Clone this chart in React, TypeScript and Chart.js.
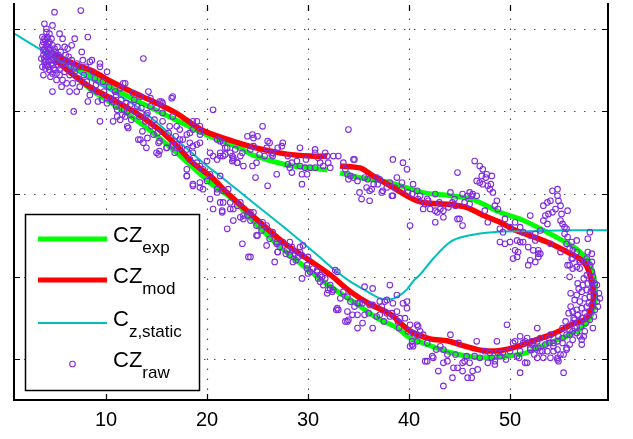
import { useEffect, useRef } from "react";
import { Chart, registerables } from "chart.js";

Chart.register(...registerables);

// axis settings
const xTicks = [10, 20, 30, 40, 50];
const yTicks = [-2.5, -2, -1.5, -1, -0.5];
const X_MIN = 0.89;
const X_MAX = 59.7;
const Y_MIN = -2.745;
const Y_MAX = -0.357;

// CZ_exp (measured, filtered)
const expX = [4.75, 7.43, 10.4, 13.66, 17.03, 20.3, 23.27, 24.55, 27.92, 30.2, 31.88, 32.5, 33.17, 35.15, 38.12, 41.39, 44.06, 46.34, 49.01, 51.29, 53.66, 54.95, 55.94, 56.93, 57.92, 58.42, 58.42, 57.92, 56.93, 55.25, 53.66, 51.68, 49.31, 46.73, 44.06, 42.08, 40.1, 38.81, 36.83, 34.85, 32.48, 29.9, 27.52, 24.95, 22.57, 20.3, 17.03, 14.36, 11.39, 8.42, 5.94, 4.75];
const expY = [-0.643, -0.745, -0.852, -0.954, -1.055, -1.151, -1.222, -1.264, -1.324, -1.342, -1.354, null, -1.372, -1.401, -1.431, -1.491, -1.509, -1.533, -1.61, -1.658, -1.73, -1.772, -1.807, -1.849, -1.921, -2.046, -2.148, -2.249, -2.315, -2.369, -2.404, -2.458, -2.482, -2.488, -2.458, -2.416, -2.369, -2.309, -2.249, -2.166, -2.07, -1.951, -1.833, -1.688, -1.533, -1.431, -1.252, -1.115, -0.984, -0.864, -0.727, -0.655];

// CZ_mod (model)
const modX = [4.75, 6.93, 8.71, 10.4, 12.38, 13.66, 15.35, 17.03, 19.6, 23.27, 24.95, 27.92, 30.2, 31.88, 32.5, 33.17, 35.15, 36.44, 38.12, 40.1, 41.39, 44.06, 45.74, 47.33, 49.01, 50.3, 53.66, 55.64, 56.93, 57.62, 58.12, 58.22, 57.62, 56.24, 54.26, 52.28, 50.99, 49.01, 47.33, 45.35, 43.76, 42.08, 40.1, 38.12, 36.14, 34.16, 32.18, 29.9, 27.52, 25.25, 22.28, 20.3, 18.61, 17.03, 15.35, 13.07, 10.4, 8.42, 6.44, 4.95];
const modY = [-0.655, -0.715, -0.757, -0.816, -0.876, -0.912, -0.96, -1.013, -1.115, -1.193, -1.222, -1.258, -1.27, -1.27, null, -1.33, -1.342, -1.39, -1.449, -1.521, -1.551, -1.563, -1.581, -1.628, -1.67, -1.712, -1.79, -1.849, -1.891, -1.939, -2.046, -2.148, -2.249, -2.285, -2.345, -2.387, -2.416, -2.446, -2.446, -2.416, -2.387, -2.375, -2.327, -2.225, -2.166, -2.088, -1.987, -1.891, -1.79, -1.67, -1.509, -1.39, -1.312, -1.21, -1.115, -1.013, -0.918, -0.852, -0.763, -0.685];

// C_z,static
const staticX = [0.79, 4.46, 9.41, 13.07, 16.63, 20.0, 21.29, 24.55, 28.22, 30.89, 32.48, 34.16, 35.84, 37.13, 38.12, 38.91, 39.8, 40.4, 41.09, 42.38, 44.06, 46.04, 48.32, 51.98, 55.94, 59.7];
const staticY = [-0.524, -0.661, -0.84, -0.972, -1.151, -1.33, -1.39, -1.551, -1.73, -1.867, -1.951, -2.028, -2.088, -2.13, -2.136, -2.118, -2.076, -2.028, -1.987, -1.891, -1.79, -1.749, -1.73, -1.724, -1.718, -1.718];

// CZ_raw samples [alpha, CZ]
const rawPoints: [number, number][] = [
  [4.9, -0.4], [7.5, -0.39], [3.9, -0.47], [4.7, -0.48], [4.1, -0.5], [4.1, -0.52], [4.2, -0.55], [4.2, -0.56], [5.4, -0.53], [5.7, -0.56], [6.9, -0.56], [8.2, -0.55],
  [3.8, -0.58], [4.4, -0.58], [4.7, -0.6], [5.2, -0.61], [5.9, -0.61], [6.2, -0.62], [6.6, -0.6],
  [3.7, -0.6], [3.9, -0.62], [4.0, -0.64], [4.2, -0.61], [4.4, -0.63], [4.6, -0.65], [3.8, -0.66], [4.1, -0.67], [4.3, -0.69], [4.5, -0.67], [4.8, -0.68], [3.9, -0.7], [4.2, -0.72], [4.6, -0.71], [5.0, -0.7], [3.7, -0.73], [4.0, -0.74], [4.4, -0.75], [4.8, -0.74], [5.1, -0.66], [5.3, -0.72], [4.3, -0.59], [3.9, -0.56], [4.5, -0.62], [4.0, -0.7], [4.7, -0.77],
  [4.0, -0.57], [4.3, -0.62], [3.8, -0.63], [4.1, -0.6], [4.4, -0.66], [3.9, -0.68], [4.2, -0.65], [4.6, -0.69], [4.0, -0.72], [4.3, -0.73], [4.7, -0.72], [5.0, -0.64], [4.9, -0.62], [5.3, -0.66], [5.6, -0.68], [5.8, -0.71], [5.5, -0.74], [6.2, -0.7], [6.5, -0.73], [6.0, -0.66], [3.6, -0.68], [3.7, -0.55], [4.4, -0.53], [4.6, -0.56],
  [7.6, -0.64], [7.7, -0.69], [8.6, -0.69], [9.4, -0.71], [10.1, -0.76], [8.7, -0.76],
  [7.1, -0.71], [7.4, -0.73], [6.9, -0.76], [6.4, -0.78], [5.9, -0.76], [5.4, -0.78], [5.1, -0.77], [4.9, -0.75], [4.5, -0.79], [3.8, -0.78],
  [5.7, -0.81], [6.1, -0.83], [6.7, -0.83], [7.4, -0.85], [7.1, -0.88], [6.4, -0.88], [5.6, -0.85], [5.1, -0.81], [4.7, -0.88],
  [8.6, -0.86], [9.1, -0.88], [8.4, -0.9], [9.6, -0.93], [10.4, -0.92], [10.7, -0.94], [10.1, -0.95], [9.2, -0.94], [8.2, -0.94], [6.8, -1.0],
  [11.9, -0.83], [11.4, -0.86], [10.9, -0.88], [9.4, -1.06], [10.7, -1.06], [11.4, -1.05], [11.1, -1.03], [11.9, -1.03], [12.1, -1.0], [11.1, -0.99],
  [9.4, -0.73], [8.4, -0.7], [12.1, -1.09], [13.7, -0.68],
  [6.0, -0.7], [6.8, -0.74], [7.8, -0.78], [8.0, -0.73], [8.9, -0.8], [9.7, -0.82], [10.3, -0.85], [11.0, -0.9], [11.5, -0.93], [12.0, -0.95], [12.8, -0.93], [13.5, -0.98], [14.0, -1.02], [14.8, -1.05], [15.6, -1.06], [16.2, -1.13], [16.9, -1.15], [17.6, -1.17], [7.2, -0.8], [8.1, -0.82], [9.0, -0.84], [9.8, -0.88], [6.3, -0.67], [5.5, -0.64], [6.6, -0.69],
  [11.7, -0.83], [14.2, -0.88], [16.6, -0.91], [15.5, -0.94], [15.6, -0.95],
  [10.5, -0.93], [11.0, -0.97], [11.8, -0.99], [12.4, -0.96], [12.9, -1.0], [11.6, -1.02], [12.5, -1.05], [13.3, -1.03], [13.9, -1.06], [12.2, -1.1], [13.6, -1.12], [14.5, -1.09], [15.1, -1.13], [14.1, -1.16], [15.3, -1.18], [16.0, -1.22], [16.6, -1.2], [15.0, -1.25], [14.0, -1.22], [13.2, -1.17],
  [13.1, -0.97], [14.4, -0.97], [15.0, -0.98], [14.1, -1.01], [15.6, -1.01], [16.6, -1.03], [16.3, -1.09], [17.0, -1.09], [17.3, -1.11], [18.6, -1.11], [18.0, -1.14], [19.3, -1.14], [17.3, -1.17], [18.3, -1.19], [19.0, -1.2], [17.0, -1.2], [15.2, -1.19], [15.3, -1.24], [15.2, -1.26], [16.0, -1.22], [17.3, -1.22], [18.0, -1.23], [16.8, -1.25],
  [20.6, -0.99], [19.0, -1.06], [19.3, -1.12], [21.0, -1.17], [18.6, -1.25], [20.3, -1.25], [20.6, -1.27], [21.3, -1.27], [22.3, -1.25], [22.6, -1.29], [20.0, -1.3], [19.0, -1.31], [19.6, -1.35], [18.0, -1.39], [18.6, -1.44], [20.3, -1.38], [21.3, -1.39], [20.0, -1.42], [19.3, -1.46], [21.0, -1.47], [21.6, -1.48], [22.1, -1.47], [22.5, -1.27], [21.8, -1.22], [23.0, -1.31],
  [18.3, -1.13], [19.3, -1.09], [21.3, -1.18], [21.6, -1.19], [18.6, -1.06],
  [13.4, -1.17], [13.7, -1.19], [14.7, -1.14], [16.6, -1.21], [18.6, -1.21], [19.3, -1.19], [18.3, -1.29], [18.0, -1.35], [21.0, -1.29],
  [12.7, -0.89], [13.4, -0.91], [14.4, -0.92], [15.3, -0.94], [16.5, -0.92], [19.3, -1.33],
  [25.5, -1.09], [24.0, -1.15], [24.5, -1.14], [24.6, -1.16], [25.0, -1.15], [26.0, -1.18], [26.2, -1.19], [27.5, -1.19], [27.4, -1.21], [27.0, -1.22], [24.6, -1.21], [24.3, -1.23], [25.9, -1.22], [29.2, -1.22], [30.7, -1.23], [30.7, -1.25], [31.7, -1.25], [31.9, -1.27],
  [21.3, -1.25], [21.8, -1.26], [21.6, -1.27], [22.0, -1.22], [22.8, -1.23], [23.5, -1.25], [23.3, -1.27], [22.6, -1.28], [23.0, -1.31], [22.5, -1.3],
  [25.2, -1.26], [25.7, -1.27], [26.4, -1.26], [26.5, -1.27], [24.9, -1.31], [24.5, -1.33], [23.6, -1.33],
  [28.0, -1.32], [28.4, -1.31], [28.9, -1.3], [28.2, -1.34], [28.4, -1.37], [29.2, -1.33], [29.7, -1.34], [30.2, -1.34], [30.7, -1.34], [31.2, -1.31], [32.0, -1.31], [31.5, -1.33], [32.2, -1.34],
  [26.9, -1.38], [29.4, -1.38], [29.9, -1.38], [24.8, -1.4], [26.0, -1.45], [29.4, -1.44],
  [26.5, -1.25], [28.0, -1.27], [29.8, -1.29], [31.0, -1.28], [33.7, -1.35], [36.5, -1.44], [37.8, -1.46], [40.9, -1.53], [43.0, -1.55], [44.5, -1.53], [46.0, -1.56], [47.5, -1.6], [49.5, -1.65], [51.0, -1.7], [52.5, -1.78], [54.0, -1.8], [55.0, -1.85],
  [32.5, -1.27], [33.0, -1.27], [33.5, -1.31], [34.5, -1.29], [34.0, -1.11], [34.0, -1.41], [34.5, -1.4], [34.9, -1.42], [34.6, -1.29],
  [38.4, -1.29], [39.4, -1.31], [39.8, -1.35],
  [33.9, -1.38], [34.2, -1.39], [35.6, -1.4], [35.9, -1.41], [36.8, -1.4], [37.1, -1.41],
  [35.1, -1.49], [35.3, -1.53], [36.1, -1.54], [35.8, -1.46], [36.3, -1.47], [36.1, -1.48],
  [36.9, -1.44], [37.4, -1.48], [37.3, -1.49], [38.1, -1.43], [38.6, -1.46], [39.3, -1.43], [39.3, -1.47], [38.4, -1.51], [38.3, -1.51], [38.8, -1.4], [40.4, -1.44],
  [39.9, -1.49], [40.3, -1.5], [40.8, -1.48], [41.1, -1.51], [41.8, -1.53], [41.9, -1.54], [41.6, -1.56], [41.4, -1.59], [42.1, -1.59], [42.6, -1.6], [42.8, -1.61], [43.1, -1.59], [43.4, -1.6], [43.9, -1.58],
  [42.6, -1.5], [44.1, -1.49], [45.3, -1.5], [45.5, -1.55], [44.3, -1.55], [44.6, -1.57],
  [42.6, -1.67], [43.4, -1.64], [44.8, -1.65], [45.0, -1.65], [40.1, -1.69], [45.3, -1.69], [44.8, -1.37],
  [46.0, -1.49], [46.2, -1.51], [46.3, -1.5], [46.7, -1.51], [45.8, -1.51],
  [46.5, -1.3], [47.0, -1.33], [47.3, -1.35], [47.2, -1.39], [47.7, -1.38], [46.7, -1.42], [47.0, -1.43], [47.3, -1.44], [47.8, -1.45], [48.2, -1.39], [48.3, -1.49], [48.0, -1.47], [48.7, -1.54], [48.5, -1.57], [48.8, -1.59], [47.6, -1.4], [48.1, -1.44],
  [47.8, -1.67], [49.0, -1.71], [49.3, -1.73], [50.0, -1.7], [50.5, -1.67],
  [49.0, -1.79], [49.5, -1.8], [50.0, -1.79], [50.7, -1.78], [51.0, -1.79], [51.3, -1.79], [50.5, -1.84], [50.8, -1.85], [50.7, -1.88], [51.8, -1.82], [52.3, -1.84], [52.8, -1.84], [53.0, -1.86], [52.8, -1.88], [52.0, -1.9], [51.8, -1.93], [50.3, -1.89],
  [51.3, -1.73], [52.0, -1.75], [52.5, -1.74], [53.0, -1.72], [52.0, -1.63],
  [53.3, -1.57], [53.7, -1.55], [54.0, -1.54], [54.2, -1.48], [54.7, -1.47], [54.7, -1.51], [54.8, -1.54], [55.0, -1.57], [54.5, -1.59], [54.2, -1.61], [53.8, -1.62], [53.5, -1.63], [53.3, -1.66], [53.7, -1.68], [55.1, -1.62], [55.0, -1.66], [55.2, -1.68], [55.4, -1.7], [55.7, -1.6], [55.6, -1.71], [55.4, -1.74], [55.7, -1.76], [56.1, -1.79], [56.6, -1.78], [55.6, -1.8], [55.9, -1.83], [56.2, -1.84], [56.6, -1.85], [55.7, -1.93], [56.6, -1.94], [56.9, -1.95], [57.9, -1.73], [57.7, -1.77], [56.2, -1.89], [56.9, -1.9], [57.6, -1.91], [58.1, -1.91], [57.7, -1.85],
  [52.5, -1.91], [52.8, -1.86], [55.9, -1.93], [56.1, -1.89], [56.2, -1.95], [56.9, -1.91], [57.6, -1.89], [58.1, -1.86], [55.9, -2.0],
  [56.7, -2.04], [57.2, -2.05], [57.7, -2.04], [58.1, -2.03], [58.2, -2.07], [57.6, -2.08], [57.1, -2.09], [56.6, -2.11], [56.4, -2.14], [56.9, -2.15], [57.4, -2.13], [57.9, -2.12], [58.4, -2.11], [58.6, -2.15], [58.1, -2.17], [57.6, -2.18], [57.1, -2.19], [56.6, -2.2], [56.7, -2.23], [57.4, -2.22], [57.9, -2.21], [58.4, -2.2], [57.2, -2.25], [57.9, -2.26], [57.6, -2.24], [56.9, -2.27], [56.2, -2.28], [56.4, -2.31], [55.9, -2.32], [56.6, -2.34], [55.6, -2.35], [55.2, -2.37], [54.8, -2.36], [55.2, -2.4], [54.7, -2.39], [54.3, -2.4], [53.9, -2.4], [53.8, -2.37], [53.0, -2.37], [52.7, -2.39], [52.2, -2.39], [51.7, -2.37], [51.3, -2.4], [52.0, -2.43], [52.5, -2.43], [53.0, -2.45], [53.7, -2.45], [54.3, -2.45], [54.0, -2.49], [53.3, -2.49], [52.7, -2.49], [54.7, -2.49], [55.0, -2.47], [55.6, -2.43], [55.9, -2.41], [56.9, -2.36], [57.1, -2.38], [56.2, -2.38], [57.9, -1.93], [58.1, -1.97], [58.2, -2.0], [57.6, -1.99], [58.4, -2.04], [58.2, -2.31], [55.2, -2.31], [57.1, -2.41], [55.3, -2.58], [57.3, -2.36],
  [58.6, -2.05], [58.8, -2.1], [57.3, -2.01], [58.0, -2.09], [57.8, -2.16], [58.3, -2.24], [57.5, -2.28], [58.7, -2.18], [57.0, -2.3], [56.8, -2.07], [58.9, -2.13], [57.4, -2.33], [56.3, -2.25], [56.0, -2.18], [55.8, -2.22], [55.5, -2.27], [56.0, -2.1],
  [21.6, -1.55], [22.3, -1.59], [21.5, -1.6], [22.0, -1.71], [23.3, -1.64], [23.6, -1.65], [24.0, -1.63], [24.6, -1.61], [24.3, -1.66], [24.9, -1.69], [25.5, -1.67], [25.9, -1.69], [26.5, -1.73], [26.9, -1.79], [27.0, -1.85], [27.9, -1.84], [28.2, -1.87], [28.5, -1.91], [29.2, -1.82], [29.5, -1.81], [29.0, -1.88], [29.4, -2.01], [29.9, -1.93], [30.2, -1.97], [30.9, -1.96], [26.7, -1.91], [24.9, -1.75], [23.5, -1.8], [24.1, -1.88], [25.9, -1.81],
  [18.0, -1.39], [18.6, -1.45], [19.3, -1.43], [19.6, -1.47], [20.3, -1.53], [21.0, -1.49], [21.3, -1.55], [20.6, -1.59], [21.5, -1.61], [22.3, -1.55], [22.6, -1.59], [23.3, -1.55], [23.6, -1.63], [24.3, -1.61], [22.6, -1.66],
  [23.0, -1.57], [25.4, -1.72], [26.2, -1.77], [27.8, -1.86], [28.8, -1.9], [30.5, -1.95], [31.5, -2.05], [33.2, -2.13], [34.6, -2.18], [36.0, -2.22], [37.5, -2.27], [39.0, -2.31], [41.8, -2.4], [42.7, -2.44], [44.6, -2.47], [46.0, -2.52], [47.8, -2.52], [49.6, -2.5], [50.9, -2.49], [52.4, -2.47],
  [25.0, -1.75], [26.9, -1.8], [27.2, -1.82], [27.0, -1.85], [27.5, -1.79], [28.2, -1.79], [28.4, -1.82], [28.5, -1.84], [28.7, -1.86], [29.2, -1.85], [29.4, -1.87], [30.0, -1.88], [29.9, -1.95], [30.0, -1.98],
  [30.9, -1.97], [31.2, -1.99], [31.0, -2.01], [31.4, -2.0], [31.7, -2.01], [31.2, -2.03], [32.7, -1.96], [32.9, -1.97], [32.2, -2.07], [32.0, -2.08], [31.9, -2.1], [32.4, -2.09], [32.5, -2.08], [32.9, -2.19], [33.0, -2.2], [32.8, -2.2], [33.5, -2.09], [33.9, -2.12], [33.9, -2.21], [34.4, -2.23], [33.9, -2.27], [33.7, -2.27], [34.0, -2.26], [34.2, -2.15], [34.9, -2.16], [35.1, -2.16], [35.4, -2.16], [34.9, -2.23], [35.6, -2.23], [35.4, -2.28], [34.9, -2.31], [35.6, -2.06], [36.4, -2.07], [36.1, -2.17], [36.4, -2.17], [37.3, -2.18], [37.6, -2.15], [37.1, -2.15], [37.8, -2.14], [38.4, -2.16], [36.4, -2.31], [36.8, -2.24], [37.1, -2.23], [37.8, -2.22], [38.1, -2.24], [38.3, -2.22], [38.8, -2.21], [38.9, -2.27], [39.1, -2.25], [39.6, -2.25], [39.8, -2.19], [39.4, -2.16], [39.8, -2.15], [38.1, -2.05], [38.8, -2.11], [39.9, -2.33], [40.4, -2.34], [40.1, -2.42], [40.3, -2.41], [40.8, -2.39], [40.8, -2.29], [24.3, -1.88], [32.2, -2.05],
  [40.1, -2.29], [40.9, -2.3], [41.1, -2.33], [41.4, -2.35], [40.8, -2.35], [40.3, -2.39], [40.4, -2.42],
  [41.6, -2.51], [41.8, -2.51], [42.3, -2.48], [42.4, -2.49], [42.9, -2.57], [43.4, -2.52], [43.8, -2.51], [44.3, -2.61], [43.4, -2.66],
  [43.1, -2.42], [43.4, -2.44], [43.8, -2.47], [44.1, -2.35], [44.9, -2.4],
  [44.4, -2.55], [44.8, -2.55], [45.3, -2.52], [45.5, -2.51], [45.3, -2.57], [45.8, -2.61], [46.2, -2.61], [46.3, -2.57], [46.8, -2.56],
  [45.7, -2.48], [46.5, -2.48], [46.7, -2.39],
  [47.0, -2.49], [47.5, -2.45], [48.0, -2.46], [48.2, -2.49], [48.5, -2.51], [48.5, -2.53], [49.0, -2.48], [48.8, -2.46], [49.3, -2.46], [49.7, -2.29], [48.7, -2.39],
  [50.0, -2.45], [50.3, -2.4], [50.5, -2.39], [51.0, -2.36], [51.0, -2.45], [50.7, -2.48], [51.0, -2.58], [51.5, -2.52], [51.7, -2.52], [51.5, -2.39], [52.2, -2.41], [52.0, -2.44],
  [52.7, -2.31], [52.8, -2.43], [53.2, -2.45], [53.5, -2.41], [54.0, -2.35], [54.3, -2.42], [54.7, -2.44], [54.7, -2.5], [54.8, -2.51], [55.3, -2.47], [55.6, -2.44], [55.9, -2.35], [56.2, -2.33], [56.6, -2.3], [56.4, -2.26], [56.7, -2.23], [56.2, -2.21],
];

const legendLabels = [
  { main: "CZ", sub: "exp" },
  { main: "CZ", sub: "mod" },
  { main: "C", sub: "z,static" },
  { main: "CZ", sub: "raw" },
];

const GREEN = "#00ff00";
const RED = "#ff0000";
const CYAN = "#00bfbf";
const PURPLE = "rgb(128,43,226)";
const FONT = '"Liberation Sans", Arial, Helvetica, sans-serif';

const toXY = (xs: number[], ys: (number | null)[]) => xs.map((x, i) => ({ x, y: ys[i] }));

const axesPlugin = {
  id: "matlabAxes",
  beforeDatasetsDraw(chart: any) {
    const { ctx, chartArea: a, scales } = chart;
    const xs = scales.x;
    const ys = scales.y;
    ctx.save();
    ctx.strokeStyle = "#505050";
    ctx.lineWidth = 1.2;
    ctx.setLineDash([1.5, 8.5]);
    for (const v of xTicks) {
      const px = Math.round(xs.getPixelForValue(v)) + 0.5;
      ctx.beginPath();
      ctx.moveTo(px, a.bottom);
      ctx.lineTo(px, a.top);
      ctx.stroke();
    }
    for (const v of yTicks) {
      const py = Math.round(ys.getPixelForValue(v)) + 0.5;
      ctx.beginPath();
      ctx.moveTo(a.left, py);
      ctx.lineTo(a.right, py);
      ctx.stroke();
    }
    ctx.restore();
  },
  afterDatasetsDraw(chart: any) {
    const { ctx, chartArea: a, scales } = chart;
    const xs = scales.x;
    const ys = scales.y;
    ctx.save();
    ctx.strokeStyle = "#000";
    ctx.lineWidth = 2;
    ctx.setLineDash([]);
    ctx.beginPath();
    ctx.moveTo(a.left, a.top - 2);
    ctx.lineTo(a.left, a.bottom);
    ctx.lineTo(a.right, a.bottom);
    ctx.lineTo(a.right, a.top - 2);
    ctx.stroke();
    ctx.lineWidth = 1.2;
    const tl = 6;
    for (const v of xTicks) {
      const px = Math.round(xs.getPixelForValue(v)) + 0.5;
      ctx.beginPath();
      ctx.moveTo(px, a.bottom);
      ctx.lineTo(px, a.bottom - tl);
      ctx.moveTo(px, a.top);
      ctx.lineTo(px, a.top + tl);
      ctx.stroke();
    }
    for (const v of yTicks) {
      const py = Math.round(ys.getPixelForValue(v)) + 0.5;
      ctx.beginPath();
      ctx.moveTo(a.left, py);
      ctx.lineTo(a.left + tl, py);
      ctx.moveTo(a.right, py);
      ctx.lineTo(a.right - tl, py);
      ctx.stroke();
    }

    // legend
    const bx = 25, by = 214, bw = 174, bh = 176;
    ctx.fillStyle = "#fff";
    ctx.fillRect(bx, by, bw, bh);
    ctx.strokeStyle = "#000";
    ctx.lineWidth = 1.5;
    ctx.strokeRect(bx + 0.5, by + 0.5, bw, bh);

    const rows = [239, 280, 323, 364];
    const styles = [
      { color: GREEN, width: 5 },
      { color: RED, width: 5 },
      { color: CYAN, width: 2 },
    ];
    for (let i = 0; i < 3; i++) {
      ctx.strokeStyle = styles[i].color;
      ctx.lineWidth = styles[i].width;
      ctx.beginPath();
      ctx.moveTo(38, rows[i]);
      ctx.lineTo(107, rows[i]);
      ctx.stroke();
    }
    ctx.strokeStyle = PURPLE;
    ctx.lineWidth = 1.1;
    ctx.beginPath();
    ctx.arc(72.5, rows[3], 2.8, 0, Math.PI * 2);
    ctx.stroke();

    ctx.fillStyle = "#000";
    ctx.textBaseline = "alphabetic";
    ctx.textAlign = "left";
    legendLabels.forEach((lab, i) => {
      const base = rows[i] + 3;
      ctx.font = `22px ${FONT}`;
      ctx.fillText(lab.main, 113, base);
      const w = ctx.measureText(lab.main).width;
      ctx.font = `17px ${FONT}`;
      ctx.fillText(lab.sub, 113 + w, base + 11);
    });
    ctx.restore();
  },
};

export default function App() {
  const ref = useRef<HTMLCanvasElement>(null);
  useEffect(() => {
    const canvas = ref.current;
    if (!canvas) return;
    const chart = new Chart(canvas, {
      type: "line",
      data: {
        datasets: [
          {
            label: "CZraw",
            data: rawPoints.map(([x, y]) => ({ x, y })),
            showLine: false,
            pointStyle: "circle",
            pointRadius: 2.8,
            pointBorderWidth: 1.1,
            pointBorderColor: PURPLE,
            pointBackgroundColor: "rgba(0,0,0,0)",
            borderColor: PURPLE,
            order: 0,
          },
          {
            label: "Cz,static",
            data: toXY(staticX, staticY),
            borderColor: CYAN,
            borderWidth: 2,
            pointRadius: 0,
            cubicInterpolationMode: "monotone",
            fill: false,
            order: 1,
          },
          {
            label: "CZmod",
            data: toXY(modX, modY),
            borderColor: RED,
            borderWidth: 5.5,
            pointRadius: 0,
            tension: 0.3,
            spanGaps: false,
            fill: false,
            order: 2,
          },
          {
            label: "CZexp",
            data: toXY(expX, expY),
            borderColor: GREEN,
            borderWidth: 5,
            pointRadius: 0,
            tension: 0.3,
            spanGaps: false,
            fill: false,
            order: 3,
          },
        ] as any,
      },
      options: {
        responsive: false,
        animation: false,
        devicePixelRatio: 1,
        layout: { padding: { left: 14, right: 25, top: 0, bottom: 0 } },
        plugins: { legend: { display: false }, tooltip: { enabled: false } },
        events: [],
        scales: {
          x: {
            type: "linear",
            min: X_MIN,
            max: X_MAX,
            afterBuildTicks: (s: any) => {
              s.ticks = xTicks.map((v) => ({ value: v }));
            },
            afterFit: (s: any) => {
              s.height = 39;
            },
            grid: { display: false, drawTicks: false },
            border: { display: false },
            ticks: {
              color: "#000",
              padding: 8,
              maxRotation: 0,
              autoSkip: false,
              font: { family: FONT, size: 20 },
            },
          },
          y: {
            type: "linear",
            display: false,
            min: Y_MIN,
            max: Y_MAX,
          },
        },
      } as any,
      plugins: [axesPlugin],
    });
    return () => chart.destroy();
  }, []);
  return (
    <div style={{ position: "fixed", left: 0, top: 0, width: 633, height: 439, background: "#fff" }}>
      <canvas ref={ref} width={633} height={439} style={{ display: "block", width: 633, height: 439 }} />
    </div>
  );
}
